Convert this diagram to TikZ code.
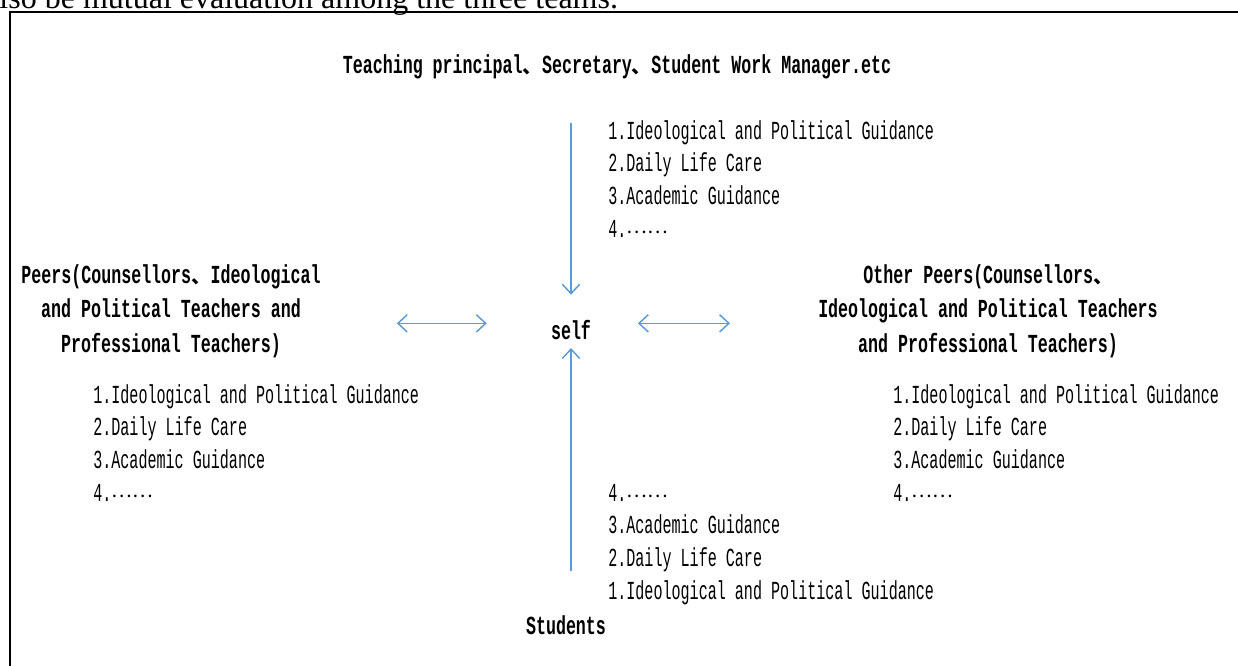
\documentclass[tikz,border=0pt]{standalone}
\usepackage{fontspec}
\usetikzlibrary{arrows.meta,positioning,calc}
\setmainfont{Liberation Serif}
\newfontfamily\listfont[FakeStretch=0.58]{Liberation Mono}
\newfontfamily\headfont[FakeStretch=0.64]{Liberation Mono}
\newfontfamily\cjk[Scale=0.75]{Noto Sans CJK SC}
\newcommand\dun{{\cjk 、}}
\newcommand\etcdots{\raisebox{2.5pt}{\cjk ……}}
\definecolor{Wire}{RGB}{91,155,213}
\tikzset{
 note/.style={anchor=base west,inner sep=0pt,font=\fontsize{24pt}{28pt}\selectfont},
 frame/.style={draw=black,line width=1.3pt},
 head/.style={align=center,inner sep=0pt,font=\headfont\bfseries\fontsize{19.5pt}{26pt}\selectfont},
 items/.style={align=left,anchor=base west,inner sep=0pt,font=\listfont\fontsize{19.5pt}{24.5pt}\selectfont},
 flow/.style={-{Straight Barb[length=7pt,width=13pt]},draw=Wire,line width=1.1pt},
 link/.style={flow,{Straight Barb[length=7pt,width=13pt]}-{Straight Barb[length=7pt,width=13pt]}}
}
\begin{document}
\begin{tikzpicture}[x=0.75pt,y=-0.75pt]
\useasboundingbox (0,0) rectangle (1238,665);
\clip (0,0) rectangle (1238,665);
\node[note] (note) at (-15,8) {also be mutual evaluation among the three teams.};
\draw[frame] (10,700) -- (10,12) -- (1260,12);
% four sides round self
\node[head] (self) at (571,330) {self};
\node[head] (top) at (617,67) {Teaching principal\dun Secretary\dun Student Work Manager.etc};
\node[head] (peers) at (171,311) {Peers(Counsellors\dun Ideological\\and Political Teachers and\\Professional Teachers)};
\node[head] (others) at (988,311) {Other Peers(Counsellors\dun\\Ideological and Political Teachers\\and Professional Teachers)};
\node[head] (students) at (566,625) {Students};
% the lists (base = last line)
\node[items] (toplist) at (608,237) {1.Ideological and Political Guidance\\2.Daily Life Care\\3.Academic Guidance\\4.\etcdots};
\node[items] (peerlist) at (93,501) {1.Ideological and Political Guidance\\2.Daily Life Care\\3.Academic Guidance\\4.\etcdots};
\node[items] (otherlist) at (893,501) {1.Ideological and Political Guidance\\2.Daily Life Care\\3.Academic Guidance\\4.\etcdots};
\node[items] (studlist) at (608,599) {4.\etcdots\\3.Academic Guidance\\2.Daily Life Care\\1.Ideological and Political Guidance};
% arrows
\draw[flow,shorten <=33pt,shorten >=19pt] (self |- top.south) -- (self);
\draw[flow,shorten <=33pt,shorten >=6pt] (self |- students.north) -- (self);
\draw[link,shorten <=57pt,shorten >=48pt] ([yshift=5pt]peers.east |- self.west) -- ([yshift=5pt]self.west);
\draw[link,shorten <=35pt,shorten >=66pt] ([yshift=5pt]self.east) -- ([yshift=5pt]others.west |- self.east);
\end{tikzpicture}
\end{document}
